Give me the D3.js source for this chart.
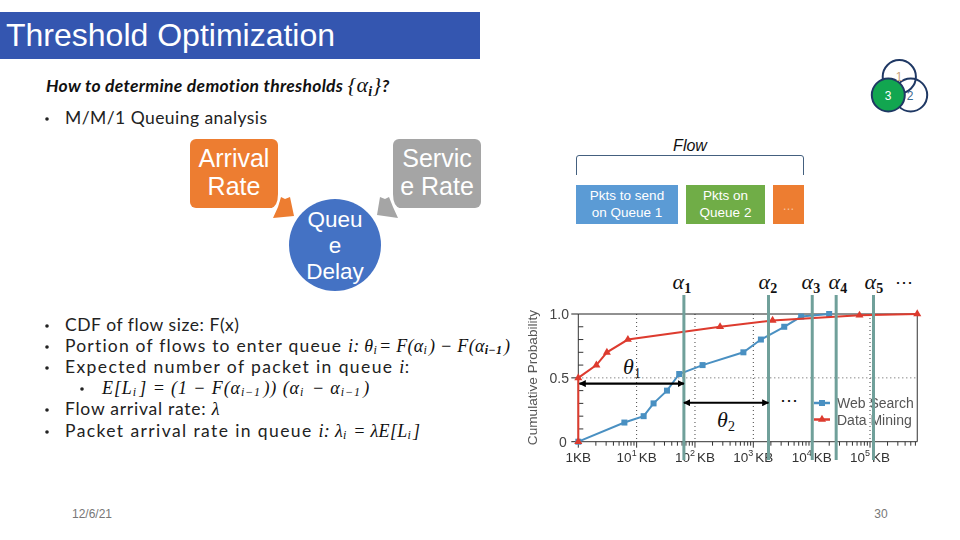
<!DOCTYPE html>
<html>
<head>
<meta charset="utf-8">
<script src="https://cdn.jsdelivr.net/npm/d3@7"></script>
<style>
html, body { margin: 0; padding: 0; background: #fff; }
svg { display: block; }
text { font-family: "Liberation Sans", Arial, sans-serif; }
.body { font-family: Lato, sans-serif; fill: #222; font-size: 17.5px; letter-spacing: 0.45px; }
.math { font-family: "Liberation Serif", serif; font-style: italic; fill: #111; letter-spacing: 0.3px; }
</style>
</head>
<body>
<svg id="slide" width="960" height="540"></svg>
<script>
// values, x is log10(size in KB)
var webX = [0, 0.79, 1.12, 1.29, 1.52, 1.73, 2.13, 2.83, 3.13, 3.53, 3.82, 4.30];
var webY = [0, 0.15, 0.20, 0.30, 0.40, 0.53, 0.60, 0.70, 0.80, 0.90, 0.98, 1.0];
var miningX = [0, 0, 0.31, 0.49, 0.85, 2.43, 3.33, 4.82, 5.81];
var miningY = [0, 0.5, 0.60, 0.70, 0.80, 0.90, 0.95, 0.99, 1.0];
var alphaX = [1.81, 3.26, 4.01, 4.42, 5.06];
var decades = [0, 1, 2, 3, 4, 5];
var yTicks = [0, 0.5, 1.0];
var yMinor = [0.1, 0.2, 0.3, 0.4, 0.6, 0.7, 0.8, 0.9];
var seriesNames = ["Web Search", "Data Mining"];
var seriesColors = ["#4a90c2", "#dd3a2e"];

var svg = d3.select("#slide");
var x = d3.scaleLinear().domain([0, 5]).range([578.3, 870]);
var y = d3.scaleLinear().domain([0, 1]).range([441.7, 314]);

var defs = svg.append("defs");
defs.append("filter").attr("id", "soft").append("feGaussianBlur").attr("stdDeviation", 0.35);

// title bar
svg.append("rect").attr("x", 0).attr("y", 12).attr("width", 480).attr("height", 47).attr("fill", "#3456b0");
svg.append("text").attr("x", 6).attr("y", 46).attr("fill", "#fff").style("font-size", "32px").text("Threshold Optimization");

// heading
var head = svg.append("text").attr("x", 46).attr("y", 92).style("font-family", "Lato, sans-serif")
	.style("font-size", "17.5px").style("font-weight", "bold").style("font-style", "italic")
	.style("letter-spacing", "0.3px").attr("fill", "#111");
head.append("tspan").text("How to determine demotion thresholds ");
head.append("tspan").attr("class", "math").style("font-size", "22px").style("font-weight", "normal").text("{α");
head.append("tspan").attr("class", "math").attr("dy", 4).style("font-size", "14px").text("i");
head.append("tspan").attr("class", "math").attr("dy", -4).style("font-size", "22px").style("font-weight", "normal").text("}");
head.append("tspan").text("?");

// bullets: plain text and math runs, m = math, ls/mls = letter spacing of each
function bullet(bx, tx, by, runs, ls, mls) {
	svg.append("circle").attr("cx", bx).attr("cy", by - 5).attr("r", 1.8).attr("fill", "#222");
	var t = svg.append("text").attr("class", "body").attr("x", tx).attr("y", by);
	runs.forEach(function (r) {
		var s = t.append("tspan");
		if (r.m) s.attr("class", "math").style("font-size", "18px");
		if (r.dy) s.attr("dy", r.dy);
		if (r.fs) s.style("font-size", r.fs + "px");
		if (r.b) s.style("font-weight", "bold");
		if (r.m && mls) s.style("letter-spacing", mls + "px");
		if (!r.m && ls) s.style("letter-spacing", ls + "px");
		s.text(r.t);
	});
}
function sub(s, bold) {
	return [{ t: s, m: 1, dy: 2, fs: 12, b: bold }, { t: "\u200a", m: 1, dy: -2 }];
}

bullet(47, 65, 124, [{ t: "M/M/1 Queuing analysis" }]);
bullet(47, 65, 331, [{ t: "CDF of flow size: F(x)" }], 0.55);
bullet(47, 65, 352, [{ t: "Portion of flows to enter queue " }, { t: "i", m: 1 }, { t: ": θ", m: 1 }].concat(sub("i"), [{ t: "= F(α", m: 1 }], sub("i"), [{ t: ") − F(α", m: 1 }], sub("i−1", true), [{ t: ")", m: 1 }]), 1.2);
bullet(47, 65, 373, [{ t: "Expected number of packet in queue " }, { t: "i", m: 1 }, { t: ":" }], 1.4);
bullet(82, 102, 394, [{ t: "E[L", m: 1 }].concat(sub("i"), [{ t: "] = (1 − F(α", m: 1 }], sub("i−1"), [{ t: ")) (α", m: 1 }], sub("i"), [{ t: " − α", m: 1 }], sub("i−1"), [{ t: ")", m: 1 }]), 0, 0.9);
bullet(47, 65, 415, [{ t: "Flow arrival rate: " }, { t: "λ", m: 1 }], 0.75);
bullet(47, 65, 437, [{ t: "Packet arrival rate in queue " }, { t: "i", m: 1 }, { t: ":  λ", m: 1 }].concat(sub("i"), [{ t: " = λE[L", m: 1 }], sub("i"), [{ t: "]", m: 1 }]), 1.4);

// overlap circles top right
var circles = svg.append("g").attr("stroke", "#1f3864").attr("stroke-width", 2);
circles.append("circle").attr("cx", 899.3).attr("cy", 76.7).attr("r", 16.6).attr("fill", "none");
circles.append("circle").attr("cx", 910.7).attr("cy", 95).attr("r", 16.5).attr("fill", "none");
circles.append("circle").attr("cx", 888.3).attr("cy", 95).attr("r", 16.5).attr("fill", "#12a650");
svg.append("text").attr("x", 899).attr("y", 81).attr("text-anchor", "middle").attr("fill", "#c9a27c").style("font-size", "12px").text("1");
svg.append("text").attr("x", 910).attr("y", 100).attr("text-anchor", "middle").attr("fill", "#3b6a8f").style("font-size", "12px").text("2");
svg.append("text").attr("x", 888).attr("y", 100).attr("text-anchor", "middle").attr("fill", "#fff").style("font-size", "12px").text("3");

// cycle diagram
function box(bx, by, w, h, r, fill) {
	svg.append("rect").attr("x", bx).attr("y", by).attr("width", w).attr("height", h).attr("rx", r).attr("fill", fill);
}
function lines(cx, ys, labels, size, fill) {
	labels.forEach(function (l, i) {
		svg.append("text").attr("x", cx).attr("y", ys[i]).attr("text-anchor", "middle")
			.attr("fill", fill || "#fff").style("font-size", size + "px").text(l);
	});
}
box(190, 139, 88, 69, 6, "#ed7d31");
box(393, 139, 88, 69, 6, "#a5a5a5");
svg.append("circle").attr("cx", 335).attr("cy", 245).attr("r", 46).attr("fill", "#4472c4");
svg.append("path").attr("d", "M281,197 L285,199 L290,197 L294,216 L273,218 L278,207 Z").attr("fill", "#ed7d31");
svg.append("path").attr("d", "M389,197 L385,199 L380,197 L377,215 L398,218 L393,207 Z").attr("fill", "#a5a5a5");
svg.append("path").attr("d", "M279,194 Q279,208 270,210").attr("fill", "none").attr("stroke", "#fff").attr("stroke-width", 2);
svg.append("path").attr("d", "M392,194 Q392,208 401,210").attr("fill", "none").attr("stroke", "#fff").attr("stroke-width", 2);
lines(234, [167, 195], ["Arrival", "Rate"], 25);
lines(437, [167, 195], ["Servic", "e Rate"], 25);
lines(335, [227, 253, 279], ["Queu", "e", "Delay"], 22.5);

// flow bracket and boxes
svg.append("text").attr("x", 690).attr("y", 151).attr("text-anchor", "middle").attr("fill", "#111")
	.style("font-size", "16px").style("font-style", "italic").text("Flow");
svg.append("path").attr("d", "M576.5,175 V158 Q576.5,155.5 579,155.5 H801 Q803.5,155.5 803.5,158 V175")
	.attr("fill", "none").attr("stroke", "#44607f").attr("stroke-width", 1);
box(576, 185, 102, 39, 0, "#5b9bd5");
box(686, 185, 79, 39, 0, "#70ad47");
box(773, 185, 31, 39, 0, "#ed7d31");
lines(627, [200, 217], ["Pkts to send", "on Queue 1"], 13.5);
lines(725.5, [200, 217], ["Pkts on", "Queue 2"], 13.5);
lines(788.5, [210], ["…"], 12, "#f6c6a4");

// cdf chart
var chart = svg.append("g").attr("filter", "url(#soft)");
chart.selectAll(".vgrid").data(decades.slice(1)).enter().append("line")
	.attr("x1", function (d) { return x(d); }).attr("x2", function (d) { return x(d); })
	.attr("y1", y(1)).attr("y2", y(0))
	.attr("stroke", "#444").attr("stroke-width", 1).attr("stroke-dasharray", "1,3");
chart.append("line").attr("x1", x(0)).attr("x2", x(5.81)).attr("y1", y(0.5)).attr("y2", y(0.5))
	.attr("stroke", "#555").attr("stroke-width", 1).attr("stroke-dasharray", "1,3");
chart.append("line").attr("x1", x(0)).attr("x2", x(5.81)).attr("y1", y(1)).attr("y2", y(1)).attr("stroke", "#222");
chart.append("line").attr("x1", x(0)).attr("x2", x(5.81)).attr("y1", y(0)).attr("y2", y(0)).attr("stroke", "#333");
chart.append("line").attr("x1", x(0)).attr("x2", x(0)).attr("y1", y(1)).attr("y2", y(0)).attr("stroke", "#333");
chart.append("line").attr("x1", x(5.81)).attr("x2", x(5.81)).attr("y1", y(1)).attr("y2", y(0)).attr("stroke", "#333");

// minor ticks
var logMinor = [];
decades.forEach(function (d) {
	d3.range(1, 10).forEach(function (m) {
		var v = d + Math.log10(m);
		if (v <= 5.81) logMinor.push({ v: v, major: m == 1 });
	});
});
chart.selectAll(".xt").data(logMinor).enter().append("line")
	.attr("x1", function (d) { return x(d.v); }).attr("x2", function (d) { return x(d.v); })
	.attr("y1", y(0)).attr("y2", function (d) { return y(0) + (d.major ? 6 : 4); })
	.attr("stroke", "#333");
chart.selectAll(".yt").data(yMinor).enter().append("line")
	.attr("x1", x(0)).attr("x2", x(0) + 5)
	.attr("y1", function (d) { return y(d); }).attr("y2", function (d) { return y(d); })
	.attr("stroke", "#333");
chart.selectAll(".ymaj").data(yTicks).enter().append("line")
	.attr("x1", x(0) - 7).attr("x2", x(0))
	.attr("y1", function (d) { return y(d); }).attr("y2", function (d) { return y(d); })
	.attr("stroke", "#222");

chart.selectAll(".ylab").data(yTicks).enter().append("text")
	.attr("x", function (d) { return d == 0 ? 563 : 569; }).attr("y", function (d) { return y(d) + 5; })
	.attr("text-anchor", function (d) { return d == 0 ? "middle" : "end"; })
	.attr("fill", "#444").style("font-size", "14px")
	.text(function (d) { return d == 0 ? "0" : d3.format(".1f")(d); });

chart.selectAll(".xlab").data(decades).enter().append("text")
	.attr("x", function (d) { return x(d); }).attr("y", 462).attr("text-anchor", "middle")
	.attr("fill", "#333").style("font-size", "13.5px")
	.each(function (d) {
		var t = d3.select(this);
		if (d == 0) { t.text("1KB"); return; }
		t.append("tspan").text("10");
		t.append("tspan").attr("dy", -6).style("font-size", "9px").text(d);
		t.append("tspan").attr("dy", 6).attr("dx", 2).text("KB");
	});

chart.append("text").attr("transform", "translate(537,377.5) rotate(-90)").attr("text-anchor", "middle")
	.attr("fill", "#555").style("font-size", "13.6px").text("Cumulative Probability");

var line = d3.line().x(function (d) { return x(d[0]); }).y(function (d) { return y(d[1]); });
var webPts = d3.zip(webX, webY);
var miningPts = d3.zip(miningX, miningY);

chart.append("path").attr("d", line(webPts)).attr("fill", "none").attr("stroke", seriesColors[0]).attr("stroke-width", 2);
chart.selectAll(".wp").data(webPts).enter().append("rect")
	.attr("x", function (d) { return x(d[0]) - 3; }).attr("y", function (d) { return y(d[1]) - 3; })
	.attr("width", 6).attr("height", 6).attr("fill", seriesColors[0]);
chart.append("path").attr("d", line(miningPts)).attr("fill", "none").attr("stroke", seriesColors[1]).attr("stroke-width", 2);
var tri = d3.symbol().type(d3.symbolTriangle).size(28);
chart.selectAll(".mp").data(miningPts).enter().append("path")
	.attr("d", tri)
	.attr("transform", function (d) { return "translate(" + x(d[0]) + "," + y(d[1]) + ")"; })
	.attr("fill", seriesColors[1]);

// legend
seriesNames.forEach(function (name, i) {
	var ly = 403 + i * 16.5;
	chart.append("line").attr("x1", 814).attr("x2", 830).attr("y1", ly).attr("y2", ly)
		.attr("stroke", seriesColors[i]).attr("stroke-width", 2.5);
	if (i == 0) chart.append("rect").attr("x", 819).attr("y", ly - 3).attr("width", 6).attr("height", 6).attr("fill", seriesColors[0]);
	else chart.append("path").attr("d", tri).attr("transform", "translate(822," + ly + ")").attr("fill", seriesColors[1]);
	chart.append("text").attr("x", 837).attr("y", ly + 5).attr("fill", "#555").style("font-size", "14px").text(name);
});

// threshold lines
chart.selectAll(".alpha").data(alphaX).enter().append("line")
	.attr("x1", function (d) { return x(d); }).attr("x2", function (d) { return x(d); })
	.attr("y1", 295).attr("y2", 460)
	.attr("stroke", "#6fa09a").attr("stroke-width", 3);

// alpha labels
var alphaLabelX = [682, 768, 811, 838, 874];
alphaLabelX.forEach(function (ax, i) {
	var t = svg.append("text").attr("class", "math").attr("x", ax).attr("y", 289).attr("text-anchor", "middle").style("font-size", "22px");
	t.append("tspan").text("α");
	t.append("tspan").attr("dy", 4).style("font-size", "14px").style("font-style", "normal").style("font-weight", "bold").text(i + 1);
});
svg.append("text").attr("x", 904).attr("y", 288).attr("text-anchor", "middle").attr("fill", "#111").style("font-size", "18px").text("⋯");

// theta arrows
defs.append("marker").attr("id", "head").attr("viewBox", "0 0 10 10").attr("refX", 9).attr("refY", 5)
	.attr("markerWidth", 3.2).attr("markerHeight", 3.2).attr("orient", "auto-start-reverse")
	.append("path").attr("d", "M0,0 L10,5 L0,10 Z").attr("fill", "#000");
function arrow(a, b, v) {
	svg.append("line").attr("x1", x(a)).attr("x2", x(b)).attr("y1", y(v)).attr("y2", y(v))
		.attr("stroke", "#000").attr("stroke-width", 2.2)
		.attr("marker-start", "url(#head)").attr("marker-end", "url(#head)");
}
arrow(0.02, alphaX[0], 0.455);
arrow(alphaX[0], alphaX[1], 0.305);
function theta(tx, ty, n) {
	var t = svg.append("text").attr("class", "math").attr("x", tx).attr("y", ty).style("font-size", "22px");
	t.append("tspan").text("θ");
	t.append("tspan").attr("dy", 4).style("font-size", "14px").style("font-style", "normal").text(n);
}
theta(623, 374, 1);
theta(717, 427, 2);
svg.append("text").attr("x", 789).attr("y", 406).attr("text-anchor", "middle").attr("fill", "#111").style("font-size", "18px").text("⋯");

// footer
svg.append("text").attr("x", 72).attr("y", 518).attr("fill", "#777").style("font-size", "12px").text("12/6/21");
svg.append("text").attr("x", 881).attr("y", 518).attr("text-anchor", "middle").attr("fill", "#777").style("font-size", "12px").text("30");
</script>
</body>
</html>
